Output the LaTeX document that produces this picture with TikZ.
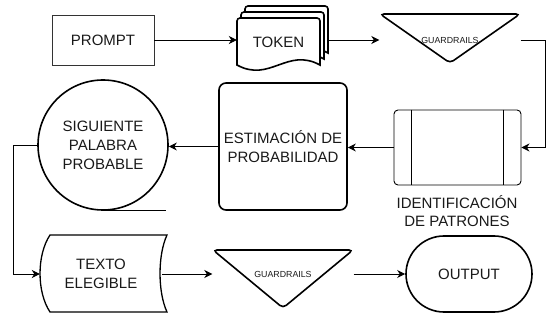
\documentclass[tikz,border=0pt]{standalone}
\usepackage{fontspec}
\setmainfont{Liberation Sans}
\usetikzlibrary{arrows.meta}
\begin{document}
\begin{tikzpicture}[x=1pt,y=-1pt,
  txt/.style={font=\fontsize{15}{19}\selectfont, align=center, inner sep=0pt, text=black!90},
  small/.style={font=\fontsize{8.8}{10}\selectfont, inner sep=0pt, text=black!90},
  thick2/.style={line width=1.6pt},
  conn/.style={line width=0.9pt, -{Stealth[length=8pt,width=8pt,inset=2.5pt]}},
]
\path[use as bounding box] (0,0) rectangle (559,320);

% PROMPT
\node[draw=black!80, line width=0.8pt, minimum width=102pt, minimum height=50pt, txt] (prompt) at (103,40) {PROMPT};

% TOKEN (multi-document)
\filldraw[thick2, fill=white] (245,53) [rounded corners=3pt] -- (245,6) -- (328,6) [sharp corners] -- (328,53) .. controls (295,35) and (278,71) .. (245,53) -- cycle;
\filldraw[thick2, fill=white] (241,59) [rounded corners=3pt] -- (241,12) -- (324,12) [sharp corners] -- (324,59) .. controls (291,41) and (274,77) .. (241,59) -- cycle;
\filldraw[thick2, fill=white] (237,65) [rounded corners=3pt] -- (237,18) -- (320,18) [sharp corners] -- (320,65) .. controls (287,47) and (270,83) .. (237,65) -- cycle;
\node[minimum width=91pt, minimum height=10pt, inner sep=0pt] (token) at (282.5,40) {};
\node[txt] (tokentxt) at (278.5,42) {TOKEN};

% GUARDRAILS 1
\draw[thick2, rounded corners=4pt] (450,14) -- (520,14) -- (450,63) -- (380,14) -- cycle;
\node[small, minimum width=141pt, minimum height=12pt] (g1) at (450,40) {GUARDRAILS};

% IDENTIFICACION box
\node[draw, line width=0.9pt, rounded corners=4pt, minimum width=127pt, minimum height=75pt, inner sep=0pt] (idp) at (457.5,147.5) {};
\draw[line width=0.9pt] ([xshift=18pt]idp.north west) -- ([xshift=18pt]idp.south west);
\draw[line width=0.9pt] ([xshift=-18pt]idp.north east) -- ([xshift=-18pt]idp.south east);
\node[txt, font=\fontsize{15}{17.5}\selectfont] (idplabel) at (457,211) {IDENTIFICACIÓN\\DE PATRONES};

% ESTIMACION
\node[draw, thick2, rounded corners=7pt, minimum width=128pt, minimum height=127pt, txt] (est) at (283,146.5) {ESTIMACIÓN DE\\PROBABILIDAD};

% SIGUIENTE PALABRA PROBABLE
\node[draw, thick2, circle, minimum size=130pt, txt] (circ) at (103,145) {SIGUIENTE\\PALABRA\\PROBABLE};
\draw[line width=0.9pt] (circ.south) -- ++(63,0);

% TEXTO ELEGIBLE
\draw[line width=1.3pt] (50,235) -- (167,235) .. controls (157.7,255) and (157.7,292) .. (167,312) -- (50,312) .. controls (36.7,292) and (36.7,255) .. (50,235) -- cycle;
\node[txt, minimum width=122pt, minimum height=20pt] (texto) at (101,274) {TEXTO\\ELEGIBLE};

% GUARDRAILS 2
\draw[thick2, rounded corners=4pt] (283,250) -- (353,250) -- (283,308) -- (213,250) -- cycle;
\node[small, minimum width=141pt, minimum height=12pt] (g2) at (283,274) {GUARDRAILS};

% OUTPUT
\node[draw, thick2, rounded corners=38pt, minimum width=126pt, minimum height=76pt, txt] (out) at (469,274) {OUTPUT};

% connectors
\draw[conn] (prompt.east) -- (token.west);
\draw[conn] (token.east) -- (g1.west);
\draw[conn] (g1.east) -- ++(25,0) |- (idp.east);
\draw[conn] (idp.west) -- (idp.west -| est.east);
\draw[conn] (est.west) -- (est.west -| circ.east);
\draw[conn] (circ.west) -- ++(-24,0) |- (texto.west);
\draw[conn] (texto.east) -- (g2.west);
\draw[conn] (g2.east) -- (out.west);
\end{tikzpicture}
\end{document}
